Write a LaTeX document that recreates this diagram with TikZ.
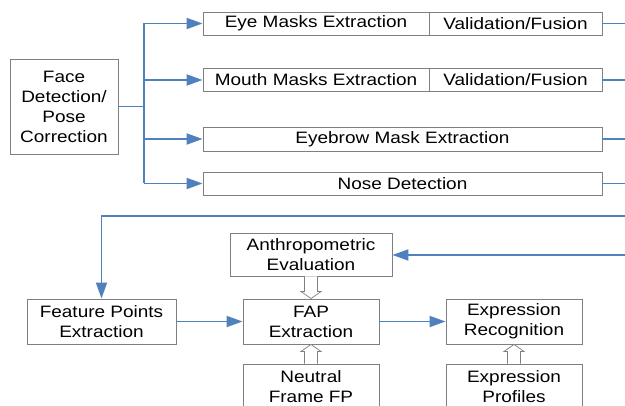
\documentclass[tikz,border=0pt]{standalone}
\usepackage{fontspec}
\setmainfont{Liberation Sans}[FakeStretch=1.15]
\usetikzlibrary{arrows.meta,calc}
\definecolor{lineblue}{HTML}{4F81BD}
\definecolor{boxgray}{HTML}{7F7F7F}
\tikzset{
  procbox/.style={draw=boxgray, line width=0.9pt, inner sep=0pt, align=center,
    font=\fontsize{16.5}{20}\selectfont, text=black},
  bluelink/.style={draw=lineblue, line width=1.8pt},
  bluearrow/.style={bluelink, -{Triangle[length=16pt,width=11pt]}},
  hollow/.style={draw=boxgray, line width=0.7pt, fill=white, line join=miter}
}
\begin{document}
\begin{tikzpicture}[x=1pt,y=-1pt]
\clip (0,0) rectangle (625,406);
\useasboundingbox (0,0) rectangle (625,406);
\fill[white] (0,0) rectangle (625,406);
% boxes
\node[procbox, minimum width=108pt, minimum height=95pt] (face) at (64,106.5) {Face\\Detection/\\Pose\\Correction};
\node[procbox, minimum width=226pt, minimum height=23pt] (eye) at (316,23.5) {Eye Masks Extraction};
\node[procbox, minimum width=173pt, minimum height=23pt] (val1) at (515.5,23.5) {Validation/Fusion};
\node[procbox, minimum width=226pt, minimum height=23pt] (mouth) at (316,80) {Mouth Masks Extraction};
\node[procbox, minimum width=173pt, minimum height=23pt] (val2) at (515.5,80) {Validation/Fusion};
\node[procbox, minimum width=399pt, minimum height=24pt] (brow) at (402.5,139) {Eyebrow Mask Extraction};
\node[procbox, minimum width=399pt, minimum height=23pt] (nose) at (402.5,183.5) {Nose Detection};
\node[procbox, minimum width=149pt, minimum height=45pt] (feat) at (101.5,321.5) {Feature Points\\Extraction};
\node[procbox, minimum width=162pt, minimum height=43pt] (anthro) at (311,254.5) {Anthropometric\\Evaluation};
\node[procbox, minimum width=136pt, minimum height=45pt] (fap) at (311,321.5) {FAP\\Extraction};
\node[procbox, minimum width=136pt, minimum height=45pt] (expr) at (514,321.5) {Expression\\Recognition};
\node[procbox, minimum width=136pt, minimum height=45pt] (neut) at (311,386.5) {Neutral\\Frame FP};
\node[procbox, minimum width=136pt, minimum height=45pt] (prof) at (514,386.5) {Expression\\Profiles};
% coordinates
\coordinate (j) at (144,106.5);
\coordinate (rx) at (625,0);
\coordinate (fb) at (625,216);
\coordinate (fb2) at (625,255);
% tree from face
\draw[bluelink] (face.east) -- (j);
\draw[bluelink] (j |- eye.west) -- (j |- nose.west);
\draw[bluearrow] (j |- eye.west) -- (eye.west);
\draw[bluearrow] (j |- mouth.west) -- (mouth.west);
\draw[bluearrow] (j |- brow.west) -- (brow.west);
\draw[bluearrow] (j |- nose.west) -- (nose.west);
% outgoing lines
\draw[bluelink] (val1.east) -- (val1.east -| rx);
\draw[bluelink] (val2.east) -- (val2.east -| rx);
\draw[bluelink] (brow.east) -- (brow.east -| rx);
\draw[bluelink] (nose.east) -- (nose.east -| rx);
% feedback lines
\draw[bluearrow] (fb) -| (feat.north);
\draw[bluearrow] (fb2) -- (fb2 -| anthro.east);
\draw[bluearrow] (feat.east) -- (fap.west);
\draw[bluearrow] (fap.east) -- (expr.west);
% hollow arrows
\draw[hollow] ($(anthro.south)+(-6.5,0)$) -- ($(fap.north)+(-6.5,-7)$) -- ($(fap.north)+(-10,-7)$) -- (fap.north) -- ($(fap.north)+(10,-7)$) -- ($(fap.north)+(6.5,-7)$) -- ($(anthro.south)+(6.5,0)$);
\draw[hollow] ($(neut.north)+(-6.5,0)$) -- ($(fap.south)+(-6.5,7)$) -- ($(fap.south)+(-10,7)$) -- (fap.south) -- ($(fap.south)+(10,7)$) -- ($(fap.south)+(6.5,7)$) -- ($(neut.north)+(6.5,0)$);
\draw[hollow] ($(prof.north)+(-6.5,0)$) -- ($(expr.south)+(-6.5,7)$) -- ($(expr.south)+(-10,7)$) -- (expr.south) -- ($(expr.south)+(10,7)$) -- ($(expr.south)+(6.5,7)$) -- ($(prof.north)+(6.5,0)$);
\end{tikzpicture}
\end{document}
